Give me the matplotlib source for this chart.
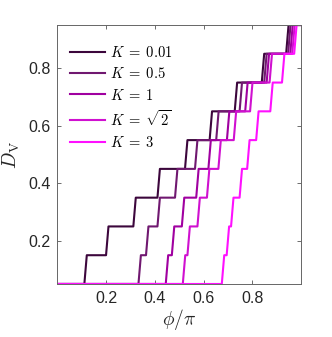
import numpy as np
import matplotlib
matplotlib.use("Agg")
import matplotlib.pyplot as plt

# ==============================================================================
# DATA — phi/pi where D_V jumps to the next level, one list per K
# ==============================================================================
levels = [0.05, 0.15, 0.25, 0.35, 0.45, 0.55, 0.65, 0.75, 0.85, 0.95]
jumps_k001  = [0.111, 0.200, 0.312, 0.411, 0.524, 0.625, 0.728, 0.839, 0.939]
jumps_k05   = [0.333, 0.364, 0.411, 0.483, 0.565, 0.652, 0.748, 0.849, 0.947]
jumps_k1    = [0.445, 0.470, 0.511, 0.570, 0.620, 0.696, 0.771, 0.859, 0.956]
jumps_ksq2  = [0.515, 0.534, 0.575, 0.614, 0.661, 0.724, 0.791, 0.871, 0.964]
jumps_k3    = [0.675, 0.695, 0.713, 0.748, 0.779, 0.816, 0.874, 0.922, 0.972]

series = [jumps_k001, jumps_k05, jumps_k1, jumps_ksq2, jumps_k3]
labels = [r"$K\;=\;0.01$", r"$K\;=\;0.5$", r"$K\;=\;1$", r"$K\;=\;\sqrt{2}$", r"$K\;=\;3$"]
colors = ["#3c063c", "#701870", "#a000a0", "#d010d0", "#ff10ff"]
rise = 0.01  # width of each (sampled) jump

# ==============================================================================
# FIGURE
# ==============================================================================
plt.rcParams["mathtext.fontset"] = "cm"
plt.rcParams["font.family"] = ["Liberation Sans", "DejaVu Sans"]

fig = plt.figure(figsize=(3.32, 3.37), dpi=100)
ax = fig.add_axes([0.1726, 0.1573, 0.7340, 0.7685])

for jumps, lab, col in zip(series, labels, colors):
    xs, ys = [0.0], [levels[0]]
    for i, t in enumerate(jumps):
        xs += [t, t + rise]
        ys += [levels[i], levels[i + 1]]
    xs.append(1.0)
    ys.append(levels[-1])
    ax.plot(xs, ys, color=col, linewidth=1.5, label=lab)

ax.set_xlim(0, 1)
ax.set_ylim(0.05, 0.95)
ax.set_xticks([0.2, 0.4, 0.6, 0.8])
ax.set_yticks([0.2, 0.4, 0.6, 0.8])
ax.tick_params(direction="in", top=True, right=True, length=3, width=0.6,
               color="#555555", labelsize=11.5, labelcolor="#262626", pad=5)
for s in ax.spines.values():
    s.set_color("#666666")
    s.set_linewidth(0.7)

ax.set_xlabel(r"$\phi/\pi$", fontsize=14, color="#262626", labelpad=1)
ax.set_ylabel(r"$D_{\rm V}$", fontsize=14, color="#262626", labelpad=4)

ax.legend(loc="upper left", bbox_to_anchor=(-0.025, 0.995), frameon=False,
          fontsize=10.5, handlelength=2.4, handletextpad=0.3,
          labelspacing=0.42, borderaxespad=0.2, borderpad=1.1)

fig.savefig("out.png", dpi=100)
